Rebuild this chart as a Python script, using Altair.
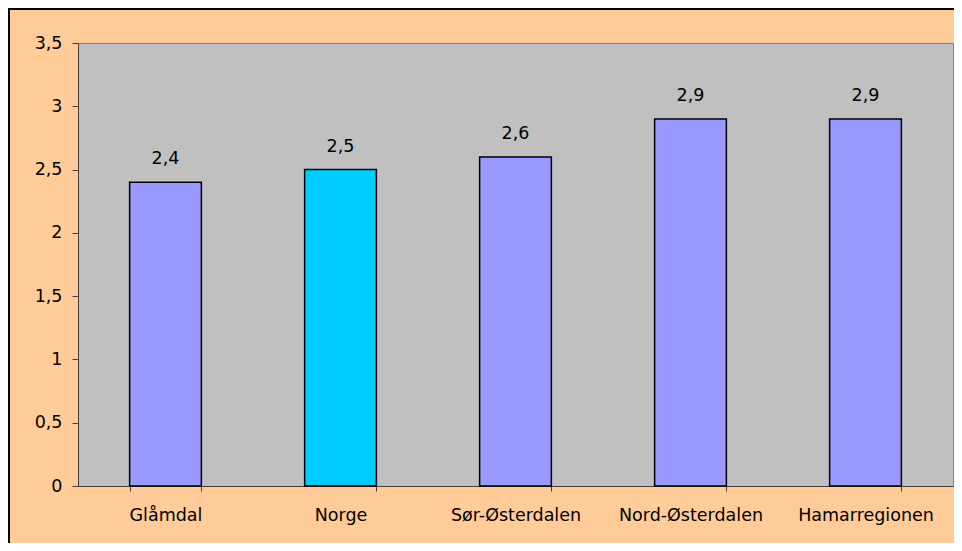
import altair as alt
import pandas as pd

regions = ["Glåmdal", "Norge", "Sør-Østerdalen", "Nord-Østerdalen", "Hamarregionen"]
values = [2.4, 2.5, 2.6, 2.9, 2.9]
colors = ["#9999FF", "#00CCFF", "#9999FF", "#9999FF", "#9999FF"]
y_ticks = [0, 0.5, 1, 1.5, 2, 2.5, 3, 3.5]

df = pd.DataFrame({"region": regions, "value": values, "color": colors})

W, H = 875, 443
FONT = "DejaVu Sans"
FS = 17.5

x = alt.X(
    "region:N",
    sort=regions,
    title=None,
    scale=alt.Scale(paddingInner=0.59, paddingOuter=0.295),
    axis=alt.Axis(
        labelAngle=0, labelFont=FONT, labelFontSize=FS, labelColor="#000000",
        labelPadding=15, tickBand="extent", tickSize=5, tickColor="#404040",
        domainColor="#404040", labelLimit=300,
    ),
)

bars = alt.Chart(df).mark_bar(stroke="#000000", strokeWidth=1.5).encode(
    x=x,
    y=alt.Y(
        "value:Q",
        title=None,
        scale=alt.Scale(domain=[0, 3.5], nice=False),
        axis=alt.Axis(
            values=y_ticks, grid=False, labelFont=FONT, labelFontSize=FS,
            labelColor="#000000", labelPadding=10, tickSize=6,
            tickColor="#404040", domainColor="#404040",
            labelExpr="replace(toString(datum.value), '.', ',')",
        ),
    ),
    color=alt.Color("color:N", scale=None),
)

text = alt.Chart(df).transform_calculate(
    label="replace(toString(datum.value), '.', ',')"
).mark_text(font=FONT, fontSize=FS, color="#000000", baseline="alphabetic", dy=-18).encode(
    x=alt.X("region:N", sort=regions),
    y="value:Q",
    text="label:N",
)

border = alt.Chart(df).mark_rect(fill="transparent", stroke="#000000", strokeWidth=1.5).encode(
    x=alt.value(-69.25),
    x2=alt.value(W + 40),
    y=alt.value(-34.25),
    y2=alt.value(H + 120),
)

chart = alt.layer(border, bars, text).properties(
    width=W,
    height=H,
    padding={"left": 70, "top": 35, "right": 1, "bottom": 57},
    autosize=alt.AutoSizeParams(type="none"),
    background="#FFCC99",
).configure_view(fill="#C0C0C0", stroke="#808080", strokeWidth=1)

chart.save("out.html", embed_options={"renderer": "svg", "actions": False})
